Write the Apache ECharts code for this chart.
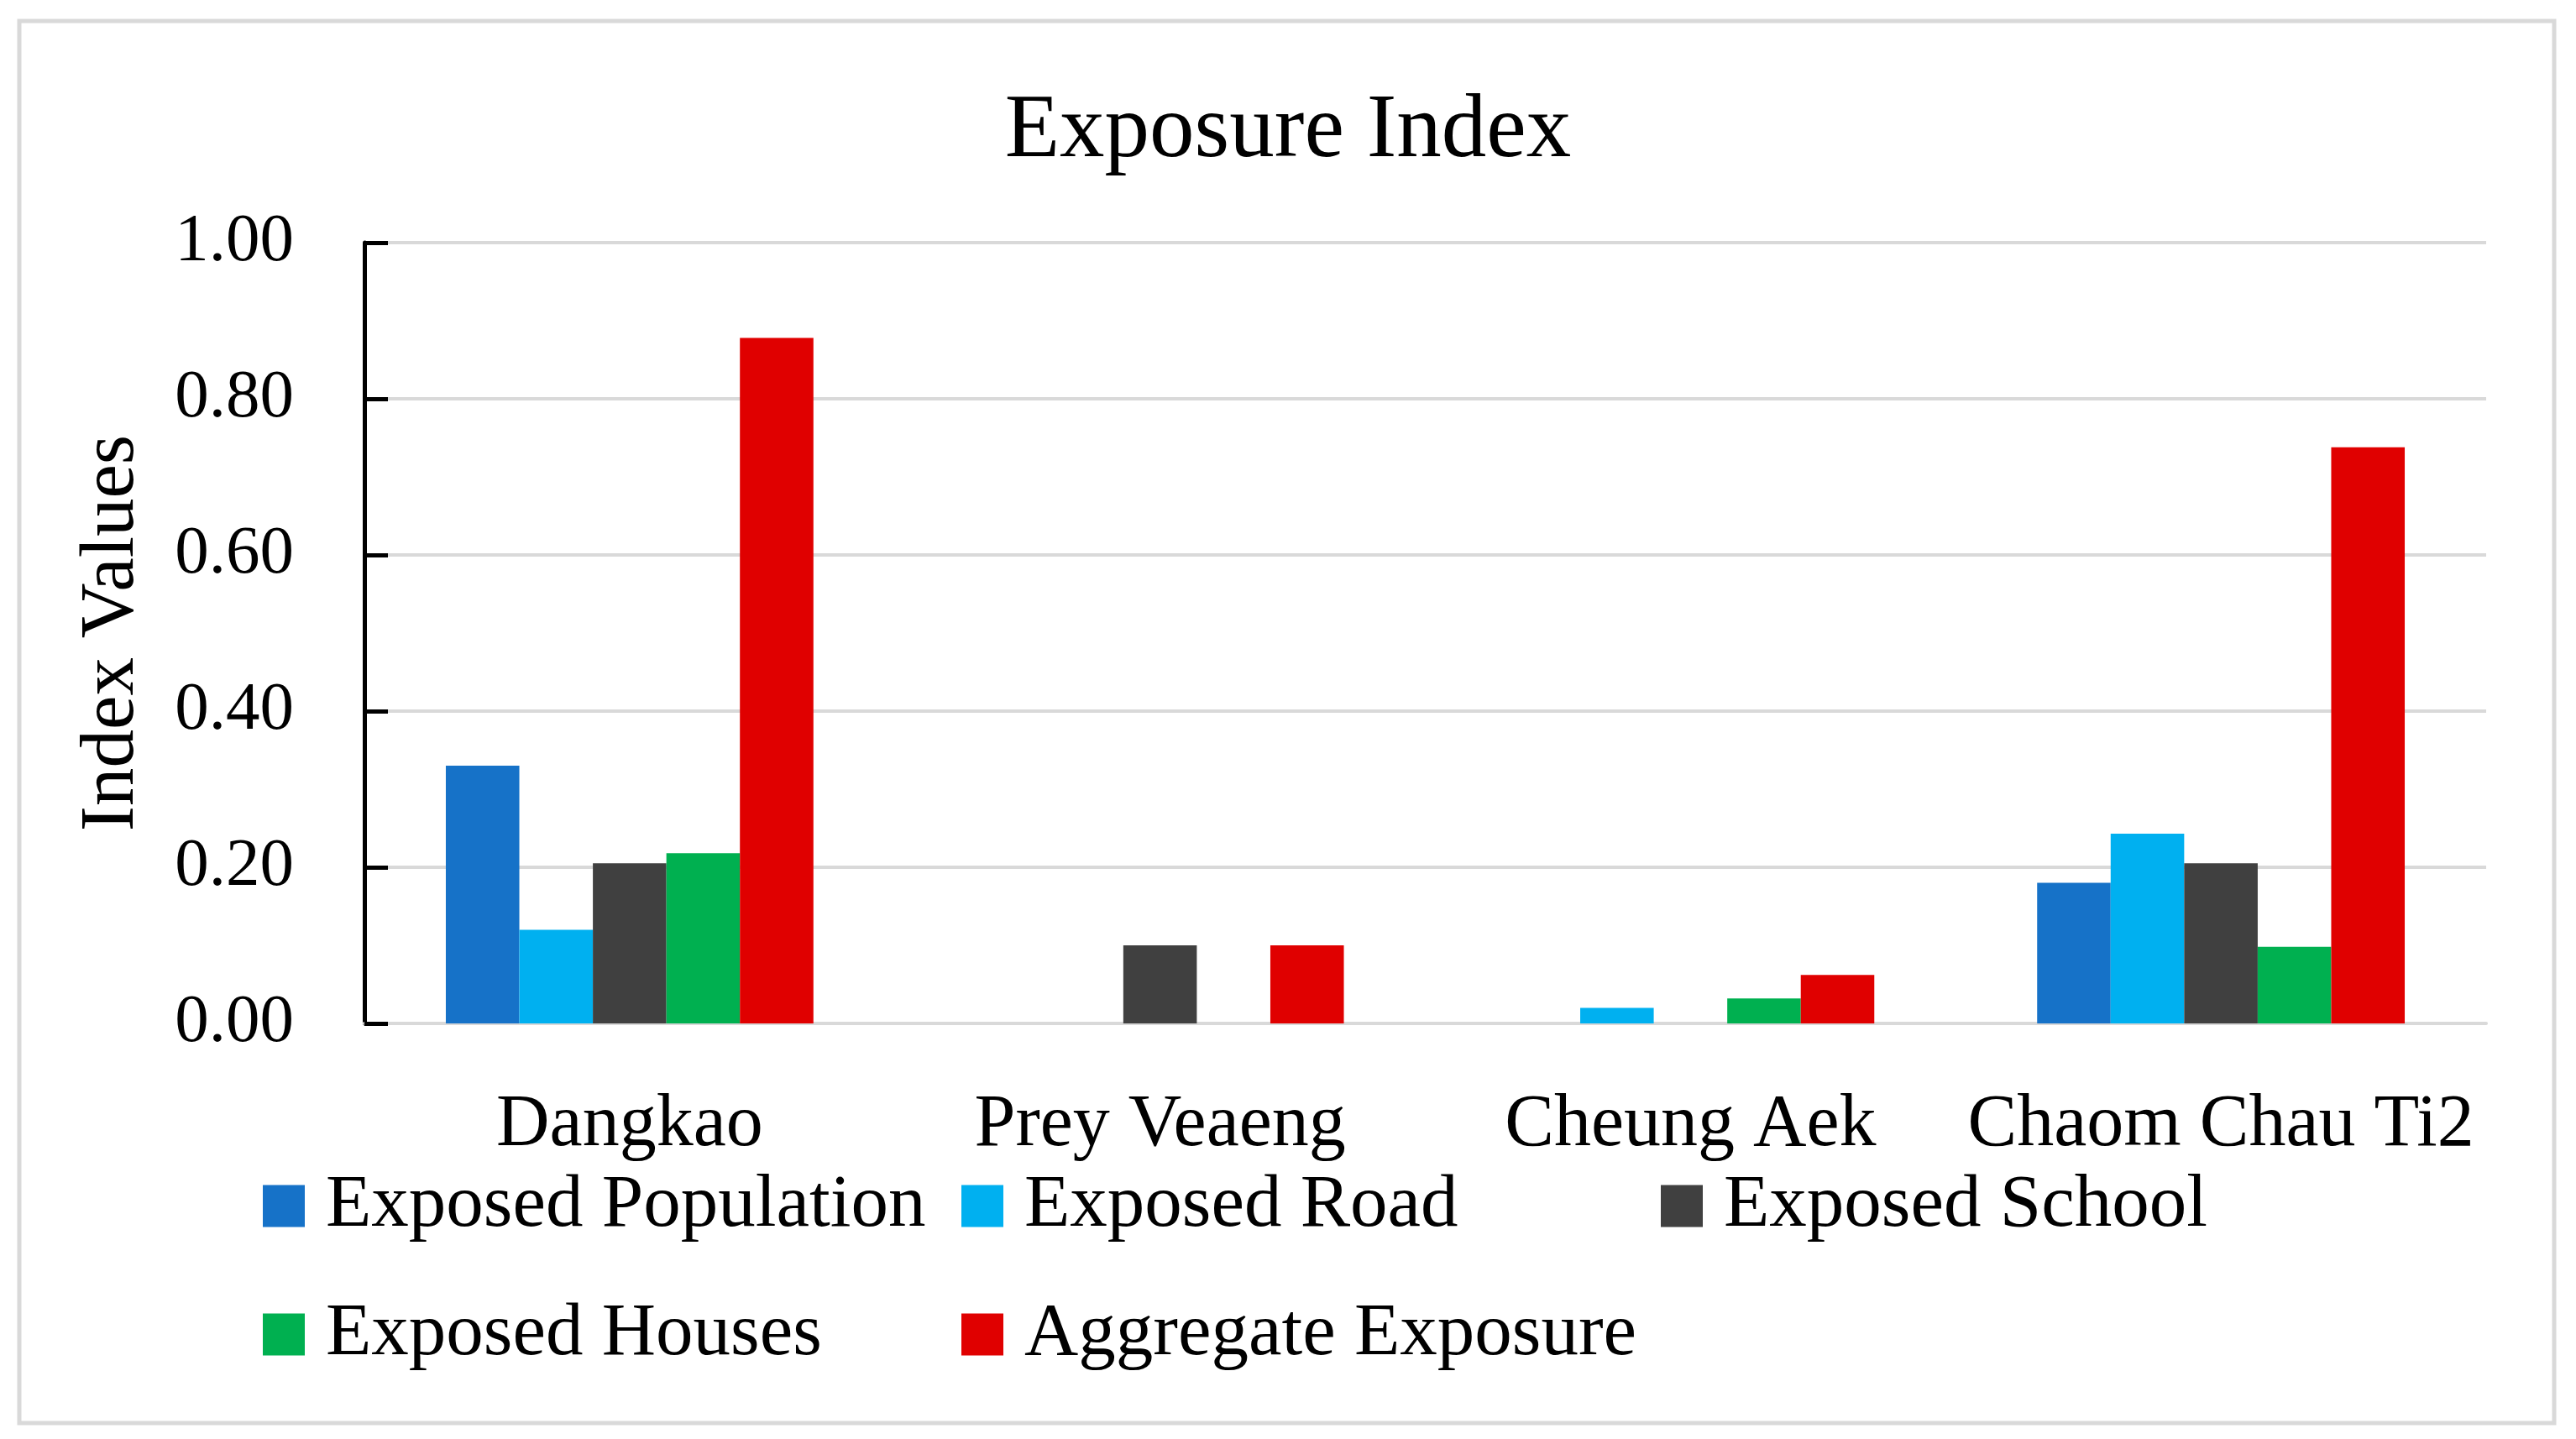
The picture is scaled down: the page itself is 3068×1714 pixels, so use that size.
<!DOCTYPE html>
<html>
<head>
<meta charset="utf-8">
<script src="https://cdn.jsdelivr.net/npm/echarts@6/dist/echarts.min.js"></script>
<style>
html,body{margin:0;padding:0;background:#ffffff;}
#chart{width:3068px;height:1714px;}
</style>
</head>
<body>
<div id="chart"></div>
<script>
var categories = ['Dangkao', 'Prey Veaeng', 'Cheung Aek', 'Chaom Chau Ti2'];
var seriesNames = ['Exposed Population', 'Exposed Road', 'Exposed School', 'Exposed Houses', 'Aggregate Exposure'];
var exposedPopulation = [0.33, 0, 0, 0.18];
var exposedRoad = [0.12, 0, 0.02, 0.243];
var exposedSchool = [0.205, 0.10, 0, 0.205];
var exposedHouses = [0.218, 0, 0.032, 0.098];
var aggregateExposure = [0.878, 0.10, 0.062, 0.738];
var yTicks = { min: 0, max: 1, interval: 0.2 };

var colors = ['#1672c8', '#00b0f0', '#404040', '#00b050', '#e00000'];
var values = [exposedPopulation, exposedRoad, exposedSchool, exposedHouses, aggregateExposure];
var FONT = 'Liberation Serif';

var legendPos = [
  { left: 313, top: 1392 },
  { left: 1145, top: 1392 },
  { left: 1978, top: 1392 },
  { left: 313, top: 1545 },
  { left: 1145, top: 1545 }
];

var chart = echarts.init(document.getElementById('chart'));
var option = {
  backgroundColor: '#ffffff',
  animation: false,
  title: {
    text: 'Exposure Index',
    left: 'center',
    top: 104,
    padding: 0,
    textStyle: { fontFamily: FONT, fontSize: 107, lineHeight: 107, fontWeight: 'normal', color: '#000000' }
  },
  legend: seriesNames.map(function (n, i) {
    return {
      data: [n],
      left: legendPos[i].left,
      top: legendPos[i].top,
      padding: 0,
      itemWidth: 50,
      itemHeight: 50,
      icon: 'rect',
      selectedMode: false,
      textStyle: { fontFamily: FONT, fontSize: 89, lineHeight: 50, color: '#000000', padding: [0, 0, 0, 20] }
    };
  }),
  grid: { left: 434, right: 107, top: 289, bottom: 495, outerBoundsMode: 'none' },
  xAxis: {
    type: 'category',
    data: categories,
    axisLine: { show: true, lineStyle: { color: '#d9d9d9', width: 4 } },
    axisTick: { show: false },
    axisLabel: { fontFamily: FONT, fontSize: 88, lineHeight: 88, color: '#000000', margin: 78, interval: 0 },
    splitLine: { show: false }
  },
  yAxis: {
    type: 'value',
    min: yTicks.min,
    max: yTicks.max,
    interval: yTicks.interval,
    name: 'Index Values',
    nameLocation: 'middle',
    nameGap: 254,
    nameMoveOverlap: false,
    nameTextStyle: { fontFamily: FONT, fontSize: 91, lineHeight: 91, color: '#000000' },
    axisLine: { show: true, lineStyle: { color: '#000000', width: 5 } },
    axisTick: { show: true, inside: true, length: 28, lineStyle: { color: '#000000', width: 5 } },
    axisLabel: {
      fontFamily: FONT, fontSize: 81, color: '#000000', margin: 84,
      formatter: function (v) { return v.toFixed(2); }
    },
    splitLine: { show: true, lineStyle: { color: '#d9d9d9', width: 4 } }
  },
  graphic: [{
    type: 'rect',
    shape: { x: 23, y: 25, width: 3019, height: 1670 },
    style: { fill: 'none', stroke: '#d9d9d9', lineWidth: 5 },
    silent: true,
    z: -1
  }],
  series: seriesNames.map(function (n, i) {
    return {
      name: n,
      type: 'bar',
      data: values[i],
      barGap: '0%',
      barCategoryGap: '30.7%',
      itemStyle: { color: colors[i] }
    };
  })
};
chart.setOption(option);
</script>
</body>
</html>
